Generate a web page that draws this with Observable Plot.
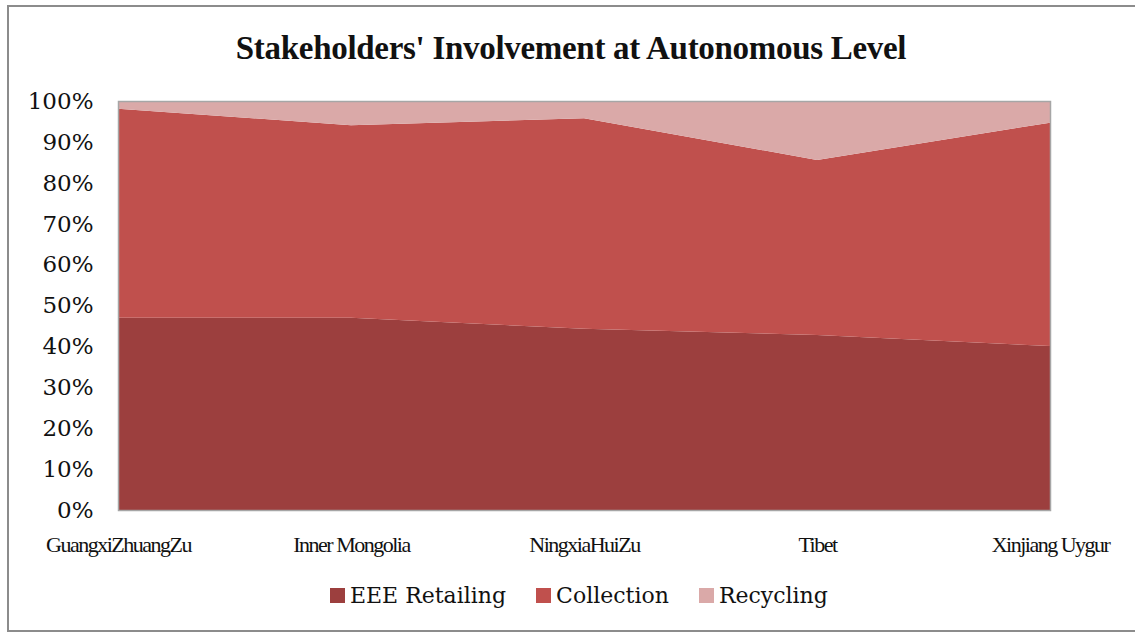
<!DOCTYPE html>
<html><head><meta charset="utf-8">
<script src="https://cdn.jsdelivr.net/npm/d3@7"></script>
<script src="https://cdn.jsdelivr.net/npm/@observablehq/plot@0.6"></script>
<style>
body{margin:0;background:#fff;}
#wrap{position:relative;width:1135px;height:635px;overflow:hidden;background:#fff;}
#border{position:absolute;left:7px;top:5px;width:1150px;height:627px;border:2px solid #8c8c8c;box-sizing:border-box;}
#title{position:absolute;top:30px;left:0;width:1142px;text-align:center;font:bold 33px "Liberation Serif";color:#111;letter-spacing:-0.3px;}
#chart{position:absolute;left:0;top:0;}
#legend{position:absolute;top:583px;left:330px;display:flex;align-items:center;font:22px "DejaVu Serif";color:#111;}
#legend .item{display:flex;align-items:center;margin-right:30px;}
#legend .sw{width:15px;height:15px;margin-right:5px;}
</style>
</head><body>
<div id="wrap">
<div id="border"></div>
<div id="title">Stakeholders' Involvement at Autonomous Level</div>
<div id="chart"></div>
<div id="legend"></div>
</div>
<script>
const regions = ["GuangxiZhuangZu", "Inner Mongolia", "NingxiaHuiZu", "Tibet", "Xinjiang Uygur"];
const seriesNames = ["EEE Retailing", "Collection", "Recycling"];
const eeeRetailing = [47.0, 47.0, 44.3, 42.8, 40.1];
const collection = [51.1, 47.1, 51.5, 42.8, 54.6];
const recycling = [1.9, 5.9, 4.2, 14.4, 5.3];
const colors = ["#9c3f3e", "#c0504d", "#daa9a8"];
const yTicks = [0, 10, 20, 30, 40, 50, 60, 70, 80, 90, 100];

const seriesValues = [eeeRetailing, collection, recycling];
const data = [];
seriesNames.forEach((s, i) => regions.forEach((r, j) => data.push({series: s, region: r, value: seriesValues[i][j]})));

const chart = Plot.plot({
  width: 1135, height: 560,
  marginLeft: 118, marginRight: 85, marginTop: 101, marginBottom: 50,
  style: {background: "transparent", color: "#111"},
  x: {type: "point", domain: regions, padding: 0, label: null},
  y: {domain: [0, 100], label: null},
  color: {domain: seriesNames, range: colors},
  marks: [
    Plot.areaY(data, {x: "region", y: "value", fill: "series", curve: "linear"}),
    Plot.frame({stroke: "#a6a6a6", strokeWidth: 1.5}),
    Plot.axisY({ticks: yTicks, tickFormat: d => d + "%", tickSize: 0, tickPadding: 25, fontSize: 23, fontFamily: "DejaVu Serif", label: null}),
    Plot.axisX({tickSize: 0, tickPadding: 26, fontSize: 22, fontFamily: "Liberation Serif", label: null})
  ]
});
chart.querySelectorAll('g[aria-label="x-axis tick label"] text').forEach(t => t.setAttribute("letter-spacing", "-1.5"));
document.getElementById("chart").appendChild(chart);

const legend = document.getElementById("legend");
seriesNames.forEach((s, i) => {
  const it = document.createElement("div"); it.className = "item";
  const sw = document.createElement("div"); sw.className = "sw"; sw.style.background = colors[i];
  const tx = document.createElement("span"); tx.textContent = s;
  it.appendChild(sw); it.appendChild(tx); legend.appendChild(it);
});
</script>
</body></html>
